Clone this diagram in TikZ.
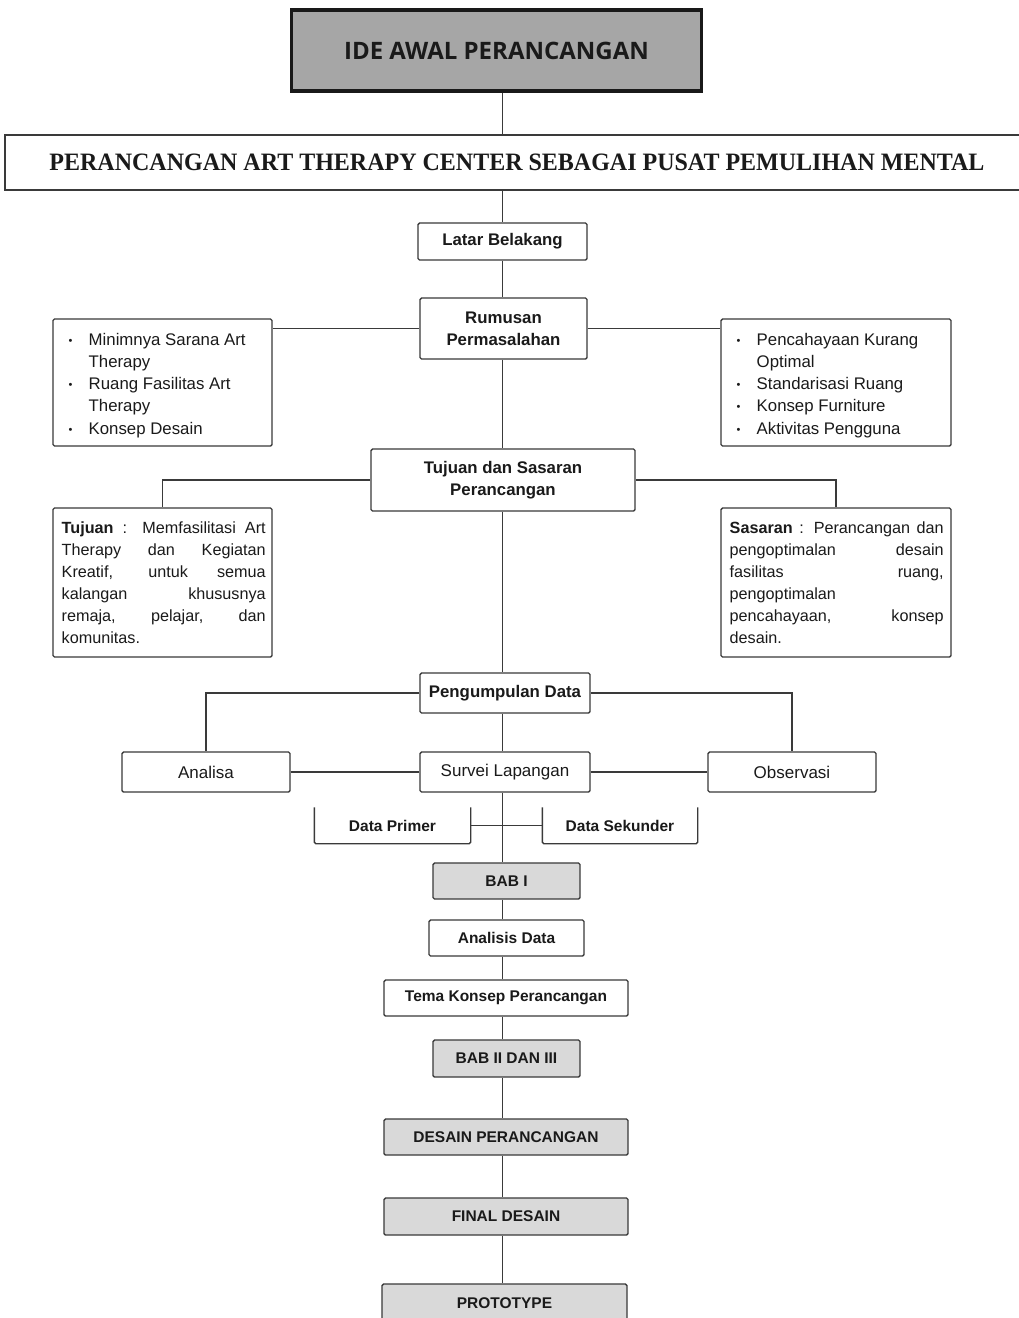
\documentclass[tikz,border=0pt]{standalone}
\usepackage{fontspec}
\usepackage{graphicx}
\setmainfont{Liberation Sans}
\newfontfamily\opensans{Open Sans}
\newfontfamily\timesf{Liberation Serif}
\definecolor{lc}{HTML}{3A3A3A}
\definecolor{tx}{HTML}{1A1A1A}
\definecolor{gdark}{HTML}{A6A6A6}
\definecolor{glight}{HTML}{D9D9D9}
\newcommand\bul{\makebox[20pt][l]{\fontsize{11}{11}\selectfont\raisebox{1pt}{•}}}
\newcommand\ind{\hspace*{20pt}}
\begin{document}
\begin{tikzpicture}[x=1pt,y=-1pt,
  line width=1.4pt, draw=lc, text=tx,
  box/.style={draw=lc, line width=1.4pt, rounded corners=1.5pt, inner sep=0pt, align=center,
    font=\fontsize{16.8}{22}\selectfont\bfseries},
  sbox/.style={box, font=\fontsize{15.5}{22}\selectfont\bfseries},
  nbox/.style={box, font=\fontsize{17}{22}\selectfont},
  gbox/.style={sbox, fill=glight},
  txt/.style={inner sep=0pt, anchor=base west},
  conn/.style={draw=lc, line width=1.4pt}
]
\useasboundingbox (0,0) rectangle (1019,1318);
\fill[white] (0,0) rectangle (1019,1318);

% top
\node[draw=black!90, line width=3.2pt, fill=gdark, minimum width=410, minimum height=81, inner sep=0pt,
  font=\opensans\bfseries\fontsize{24}{28}\selectfont] (ide) at (496.5,50.5) {IDE AWAL PERANCANGAN};
\node[draw=lc, line width=1.2pt, minimum width=1020, minimum height=55, inner sep=0pt] (title) at (515,162.5) {};
\node[inner sep=0pt, font=\timesf\bfseries\fontsize{25}{28}\selectfont] (titletext) at (517,162.5) {\resizebox{935pt}{\height}{PERANCANGAN ART THERAPY CENTER SEBAGAI PUSAT PEMULIHAN MENTAL}};

\node[box, minimum width=169, minimum height=37] (latar) at (502.5,241.5) {Latar Belakang};
\node[box, minimum width=167, minimum height=61] (rum) at (503.5,328.5) {Rumusan\\Permasalahan};

% lists
\node[box, minimum width=219, minimum height=127] (listL) at (162.5,382.5) {};
\node[txt] (listLt) at (68,345) {\parbox[t]{200pt}{\fontsize{16.8}{22.3}\selectfont\raggedright
\bul Minimnya Sarana Art\\ \ind Therapy\\ \bul Ruang Fasilitas Art\\ \ind Therapy\\ \bul Konsep Desain}};
\node[box, minimum width=230, minimum height=127] (listR) at (836,382.5) {};
\node[txt] (listRt) at (736,345) {\parbox[t]{215pt}{\fontsize{16.8}{22.3}\selectfont\raggedright
\bul Pencahayaan Kurang\\ \ind Optimal\\ \bul Standarisasi Ruang\\ \bul Konsep Furniture\\ \bul Aktivitas Pengguna}};

\node[box, minimum width=264, minimum height=62] (tds) at (503,480) {Tujuan dan Sasaran\\Perancangan};

\node[box, minimum width=219, minimum height=149] (tuj) at (162.5,582.5) {};
\node[txt] (tujt) at (61,533) {\parbox[t]{204pt}{\fontsize{16.2}{22}\selectfont
\textbf{Tujuan} : Memfasilitasi Art\linebreak Therapy dan Kegiatan\linebreak Kreatif, untuk semua\linebreak kalangan khususnya\linebreak remaja, pelajar, dan\linebreak komunitas.}};
\node[box, minimum width=230, minimum height=149] (sas) at (836,582.5) {};
\node[txt] (sast) at (729,533) {\parbox[t]{214pt}{\fontsize{16.2}{22}\selectfont
\textbf{Sasaran} : Perancangan dan\linebreak pengoptimalan desain\linebreak fasilitas ruang,\linebreak pengoptimalan\\ pencahayaan, konsep\linebreak desain.}};

% data
\node[box, minimum width=170, minimum height=40] (peng) at (505,693) {Pengumpulan Data};
\node[nbox, minimum width=168, minimum height=40] (analisa) at (206,772) {Analisa};
\node[nbox, minimum width=170, minimum height=40] (survei) at (505,772) {Survei Lapangan};
\node[nbox, minimum width=168, minimum height=40] (obs) at (792,772) {Observasi};

\node[inner sep=0pt, minimum width=155, minimum height=35, font=\fontsize{15.5}{18}\selectfont\bfseries] (dp) at (392.5,825.5) {Data Primer};
\node[inner sep=0pt, minimum width=154, minimum height=35, font=\fontsize{15.5}{18}\selectfont\bfseries] (ds) at (620,825.5) {Data Sekunder};
\draw[conn, rounded corners=1.5pt] (dp.north west) -- (dp.south west) -- (dp.south east) -- (dp.north east);
\draw[conn, rounded corners=1.5pt] (ds.north west) -- (ds.south west) -- (ds.south east) -- (ds.north east);

% bottom chain
\node[gbox, minimum width=147, minimum height=36] (bab1) at (506.5,881) {BAB I};
\node[sbox, minimum width=155, minimum height=36] (ana) at (506.5,938) {Analisis Data};
\node[sbox, minimum width=244, minimum height=36] (tema) at (506,998) {Tema Konsep Perancangan};
\node[gbox, minimum width=147, minimum height=37] (bab2) at (506.5,1058.5) {BAB II DAN III};
\node[gbox, minimum width=244, minimum height=36] (desain) at (506,1137) {DESAIN PERANCANGAN};
\node[gbox, minimum width=244, minimum height=37] (final) at (506,1216.5) {FINAL DESAIN};
\node[gbox, minimum width=245, minimum height=38] (proto) at (504.5,1303) {PROTOTYPE};

% connectors
\draw[conn] (latar.north |- ide.south) -- (latar.north |- title.north);
\draw[conn] (latar.north |- title.south) -- (latar.north);
\draw[conn] (latar.south) -- (rum.north -| latar.south);
\draw[conn] (rum.west) -- (rum.west -| listL.east);
\draw[conn] (rum.east) -- (rum.east -| listR.west);
\draw[conn] (rum.south -| latar.south) -- (tds.north -| latar.south);
\draw[conn] (tds.west) -| (tuj.north);
\draw[conn] (tds.east) -| (sas.north);
\draw[conn] (tds.south -| latar.south) -- (peng.north -| latar.south);
\draw[conn] (peng.west) -| (analisa.north);
\draw[conn] (peng.east) -| (obs.north);
\draw[conn] (peng.south -| latar.south) -- (survei.north -| latar.south);
\draw[conn] (analisa.east) -- (survei.west);
\draw[conn] (survei.east) -- (obs.west);
\draw[conn] (dp.east) -- (ds.west);
\draw[conn] (survei.south -| latar.south) -- (bab1.north -| latar.south);
\draw[conn] (bab1.south -| latar.south) -- (ana.north -| latar.south);
\draw[conn] (ana.south -| latar.south) -- (tema.north -| latar.south);
\draw[conn] (tema.south -| latar.south) -- (bab2.north -| latar.south);
\draw[conn] (bab2.south -| latar.south) -- (desain.north -| latar.south);
\draw[conn] (desain.south -| latar.south) -- (final.north -| latar.south);
\draw[conn] (final.south -| latar.south) -- (proto.north -| latar.south);
\end{tikzpicture}
\end{document}
